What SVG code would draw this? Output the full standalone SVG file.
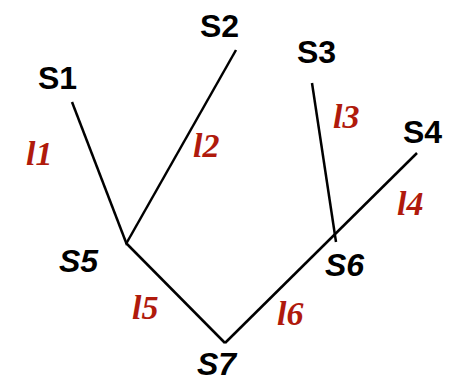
<svg xmlns="http://www.w3.org/2000/svg" width="449" height="382" viewBox="0 0 449 382">
<style>
.n{font-family:"Liberation Sans",Arial,sans-serif;font-weight:bold;font-size:32px;fill:#000}
.i{font-style:italic}
.l{font-family:"Liberation Serif","Times New Roman",serif;font-style:italic;font-weight:bold;font-size:34px;fill:#b01a0c}
.e{stroke:#000;stroke-width:2.5;fill:none;stroke-linecap:butt}
</style>
<rect width="449" height="382" fill="#fff"/>
<g id="connectors">
<line class="e" x1="72" y1="102" x2="127" y2="245"/>
<line class="e" x1="236" y1="50" x2="126" y2="244"/>
<line class="e" x1="127" y1="244" x2="225" y2="343"/>
<line class="e" x1="225" y1="343" x2="417" y2="153"/>
<line class="e" x1="312" y1="83" x2="336" y2="242"/>
</g>
<g id="S1"><text class="n" x="38" y="89">S1</text></g>
<g id="S2"><text class="n" x="200" y="37">S2</text></g>
<g id="S3"><text class="n" x="297" y="63">S3</text></g>
<g id="S4"><text class="n" x="403" y="143">S4</text></g>
<g id="S5"><text class="n i" x="59" y="272">S5</text></g>
<g id="S6"><text class="n i" x="325" y="276">S6</text></g>
<g id="S7"><text class="n i" x="197" y="375">S7</text></g>
<g id="labels">
<text class="l" x="26" y="165">l1</text>
<text class="l" x="193" y="157">l2</text>
<text class="l" x="333" y="128">l3</text>
<text class="l" x="397" y="215">l4</text>
<text class="l" x="132" y="319">l5</text>
<text class="l" x="277" y="325">l6</text>
</g>
</svg>
